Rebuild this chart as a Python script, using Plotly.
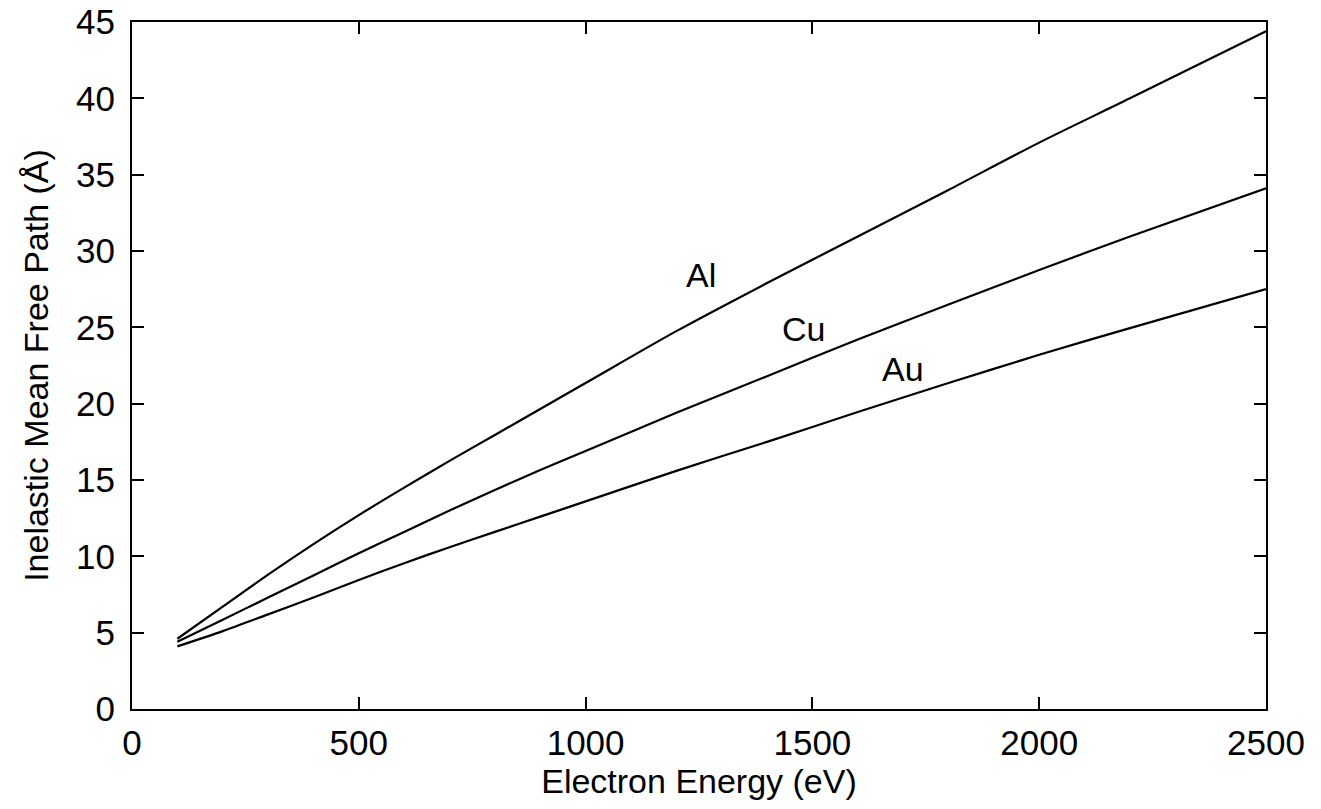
import plotly.graph_objects as go

energy = [100, 200, 300, 400, 500, 600, 700, 800, 900, 1000, 1200, 1400, 1600, 1800, 2000, 2200, 2500]
imfp_al = [4.6, 6.7, 8.8, 10.8, 12.7, 14.5, 16.25, 17.95, 19.65, 21.35, 24.75, 27.9, 30.95, 34.0, 37.1, 40.0, 44.4]
imfp_cu = [4.4, 5.85, 7.3, 8.75, 10.2, 11.6, 13.0, 14.35, 15.65, 16.9, 19.4, 21.8, 24.2, 26.5, 28.75, 30.95, 34.1]
imfp_au = [4.1, 5.1, 6.2, 7.3, 8.45, 9.55, 10.6, 11.6, 12.6, 13.6, 15.6, 17.5, 19.45, 21.35, 23.2, 24.95, 27.5]

labels = ["Al", "Cu", "Au"]
label_x = [1255, 1480, 1699]
label_y = [28.4, 24.9, 22.3]

x_ticks = [0, 500, 1000, 1500, 2000, 2500]
y_ticks = [0, 5, 10, 15, 20, 25, 30, 35, 40, 45]

FONT = "Liberation Sans, Arial, sans-serif"

fig = go.Figure()
for name, vals in zip(labels, [imfp_al, imfp_cu, imfp_au]):
    fig.add_trace(go.Scatter(x=energy, y=vals, mode="lines", name=name,
                             line=dict(color="black", width=2.2, shape="spline", smoothing=0.8),
                             showlegend=False))

for t, xv, yv in zip(labels, label_x, label_y):
    fig.add_annotation(x=xv, y=yv, text=t, showarrow=False,
                       font=dict(family=FONT, size=34, color="black"))

axis_common = dict(showgrid=False, zeroline=False, showline=True, linecolor="black",
                   linewidth=2, mirror="allticks", ticks="inside", ticklen=12,
                   tickwidth=2, tickcolor="black",
                   tickfont=dict(family=FONT, size=35, color="black"))

fig.update_xaxes(range=[0, 2500], tickvals=x_ticks, ticklabelstandoff=2,
                 title=dict(text="Electron Energy (eV)", standoff=4,
                            font=dict(family=FONT, size=34, color="black")),
                 **axis_common)
fig.update_yaxes(range=[0, 45], tickvals=y_ticks, ticklabelstandoff=8,
                 title=dict(text="Inelastic Mean Free Path (Å)", standoff=17,
                            font=dict(family=FONT, size=34, color="black")),
                 **axis_common)

fig.update_layout(width=1321, height=809, plot_bgcolor="white", paper_bgcolor="white",
                  margin=dict(l=132, r=55, t=22, b=100, autoexpand=False))

fig.write_html("out.html", config={"displayModeBar": False},
               post_script="document.body.style.margin='0';document.body.style.padding='0';")
